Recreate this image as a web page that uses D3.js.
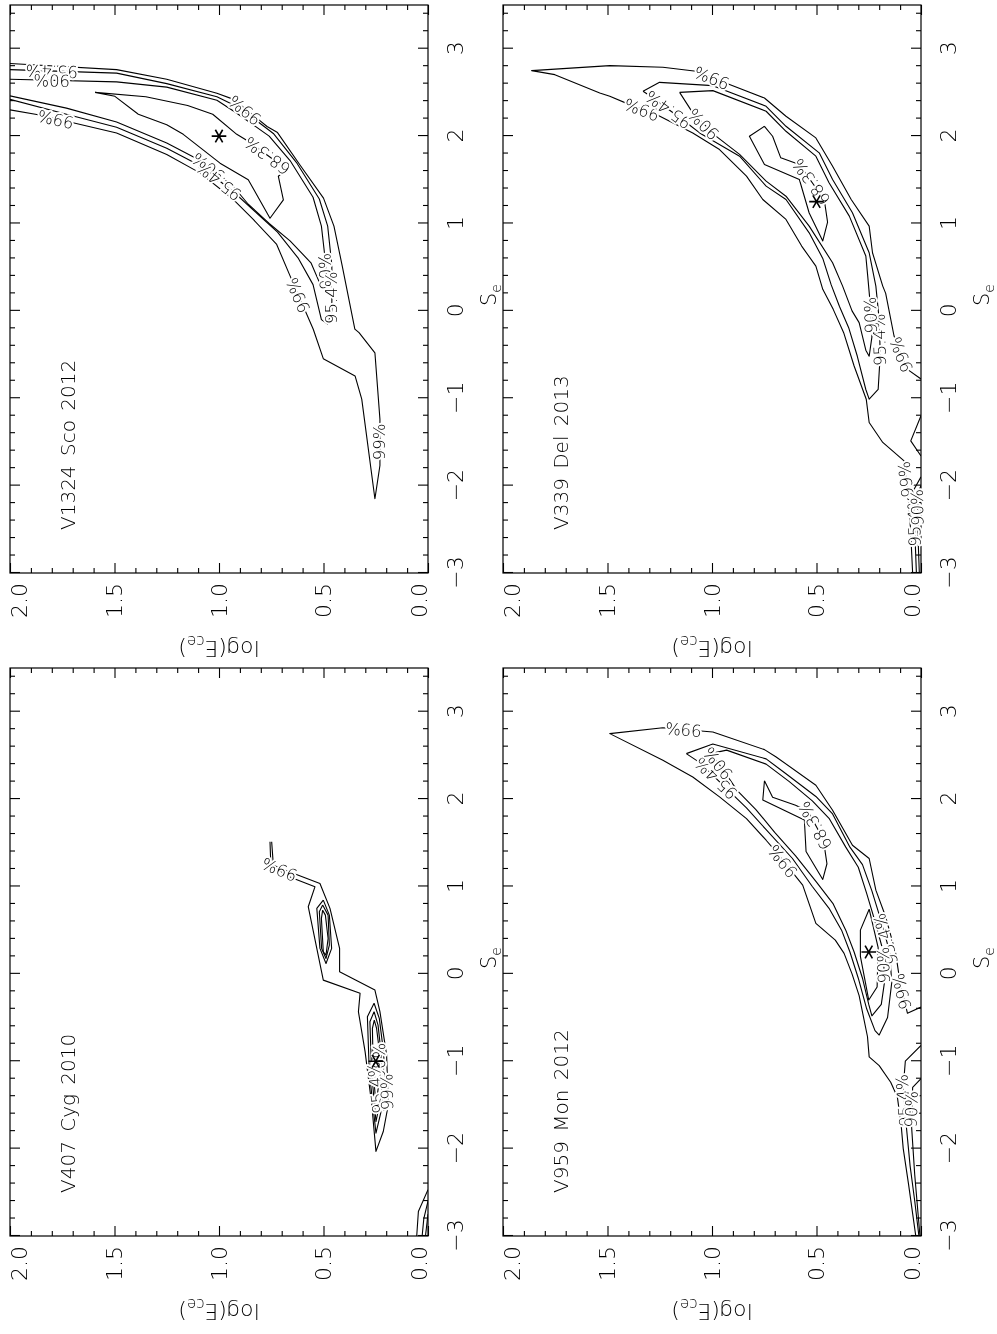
<!DOCTYPE html>
<html><head><meta charset="utf-8">
<script src="https://cdn.jsdelivr.net/npm/d3@7"></script>
<style>
body{margin:0;background:#fff}
svg{display:block;will-change:transform}
text{font-family:"DejaVu Sans",sans-serif;font-weight:200;fill:#000}
.tick text{font-size:22px}
.title{font-size:20px}
.axt{font-size:21px}
.clabel{font-size:16.5px;stroke:#fff;stroke-width:4px;paint-order:stroke;stroke-linejoin:round}
</style></head>
<body><svg id="c" width="997" height="1334"></svg>
<script>
const novaNames = ["V407 Cyg 2010", "V1324 Sco 2012", "V959 Mon 2012", "V339 Del 2013"];
const seTicks = [-3, -2, -1, 0, 1, 2, 3];
const logTicks = [0.0, 0.5, 1.0, 1.5, 2.0];
const bestFit = [[-1.0, 0.25], [2.0, 1.0], [0.25, 0.25], [1.25, 0.5]];

// contours: [S_e, log(E_ce)]
const v407_c99 = [[1.511,0.748],[1.244,0.74],[1.168,0.664],[1.034,0.517],[0.749,0.469],[0.291,0.423],[0.023,0.423],[-0.186,0.254],[-0.433,0.23],[-0.928,0.198],[-1.499,0.19],[-1.804,0.214],[-2.032,0.249],[-1.499,0.269],[-0.89,0.301],[-0.433,0.333],[-0.223,0.325],[-0.072,0.501],[0.768,0.573],[0.996,0.541],[1.111,0.664],[1.244,0.752],[1.511,0.756]];
const v407_c99c = [[-2.47,0],[-2.72,0.046],[-3.0,0.054]];
const v407_c954a = [[0.844,0.501],[0.749,0.532],[0.291,0.517],[0.119,0.488],[0.291,0.461],[0.672,0.472],[0.844,0.501]];
const v407_c954b = [[-0.337,0.258],[-0.49,0.29],[-1.118,0.281],[-1.823,0.249],[-1.499,0.217],[-0.928,0.211],[-0.51,0.233],[-0.337,0.258]];
const v407_c954c = [[-2.6,0],[-2.8,0.02],[-3.0,0.028]];
const v407_c90a = [[0.787,0.504],[0.71,0.52],[0.291,0.509],[0.176,0.488],[0.329,0.472],[0.672,0.478],[0.787,0.504]];
const v407_c90b = [[-0.433,0.258],[-0.549,0.278],[-1.118,0.27],[-1.69,0.249],[-1.423,0.226],[-0.89,0.225],[-0.587,0.239],[-0.433,0.258]];
const v407_c90c = [[-2.75,0],[-3.0,0.012]];
const v407_c683a = [[0.729,0.504],[0.634,0.51],[0.253,0.501],[0.214,0.488],[0.405,0.478],[0.672,0.491],[0.729,0.504]];
const v407_c683b = [[-0.53,0.257],[-0.625,0.266],[-1.118,0.262],[-1.499,0.249],[-1.27,0.236],[-0.815,0.236],[-0.625,0.246],[-0.53,0.257]];

const v1324_c99 = [[2.83,2.0],[2.76,1.49],[2.65,1.25],[2.49,1.01],[2.42,0.93],[2.11,0.77],[2.04,0.72],[1.66,0.61],[1.29,0.50],[0.97,0.45],[0.51,0.41],[-0.21,0.35],[-0.25,0.33],[-0.48,0.254],[-1.24,0.23],[-1.77,0.23],[-2.15,0.254],[-1.01,0.317],[-0.745,0.349],[-0.547,0.501],[-0.211,0.549],[0.40,0.66],[0.76,0.724],[1.046,0.836],[1.274,0.931],[1.579,1.091],[1.789,1.25],[2.036,1.49],[2.17,1.729],[2.246,1.872],[2.30,2.0]];
const v1324_c954 = [[2.76,2.0],[2.72,1.49],[2.60,1.25],[2.45,1.01],[2.32,0.90],[2.03,0.74],[1.70,0.63],[1.28,0.52],[0.97,0.48],[0.52,0.46],[0.0,0.46],[-0.15,0.48],[-0.1,0.51],[0.3,0.55],[0.6,0.62],[0.9,0.72],[1.12,0.82],[1.36,0.93],[1.66,1.09],[1.86,1.25],[2.10,1.49],[2.25,1.73],[2.42,2.0]];
const v1324_c90 = [[2.65,2.0],[2.62,1.49],[2.56,1.25],[2.41,1.01],[2.27,0.92],[2.0,0.76],[1.72,0.66],[1.30,0.55],[0.97,0.51],[0.55,0.49],[0.3,0.485],[0.25,0.50],[0.30,0.515],[0.55,0.56],[0.8,0.66],[1.0,0.76],[1.22,0.86],[1.42,0.93],[1.72,1.09],[1.92,1.25],[2.16,1.49],[2.32,1.73],[2.46,2.0]];
const v1324_c683 = [[2.50,1.593],[2.45,1.35],[2.35,1.15],[2.25,1.03],[2.02,0.915],[1.94,0.86],[1.62,0.676],[1.54,0.716],[1.27,0.692],[1.06,0.756],[1.50,0.86],[1.69,0.995],[2.02,1.171],[2.13,1.25],[2.25,1.386],[2.455,1.498],[2.50,1.593]];

const v959_c99 = [[-0.38,0.0],[-0.45,0.065],[-0.1,0.1],[0.234,0.121],[0.653,0.169],[0.958,0.216],[1.32,0.248],[1.472,0.328],[1.872,0.423],[2.158,0.503],[2.482,0.693],[2.566,0.749],[2.768,0.996],[2.817,1.235],[2.749,1.489],[2.444,1.235],[2.253,1.092],[2.025,0.964],[1.777,0.835],[1.529,0.741],[1.396,0.693],[1.015,0.566],[0.577,0.503],[0.386,0.41],[0.234,0.368],[0.0,0.33],[-0.25,0.296],[-0.72,0.256],[-0.95,0.248],[-1.05,0.2],[-1.24,0.145],[-1.41,0.113],[-1.73,0.095],[-2.0,0.085],[-2.4,0.06],[-3.0,0.025]];
const v959_c954 = [[2.52,1.123],[2.63,0.996],[2.46,0.741],[2.29,0.646],[2.03,0.503],[1.83,0.423],[1.45,0.34],[1.25,0.28],[0.95,0.235],[0.6,0.19],[0.25,0.15],[-0.1,0.14],[-0.5,0.16],[-0.7,0.2],[-0.65,0.22],[-0.4,0.26],[-0.05,0.30],[0.25,0.34],[0.5,0.38],[0.75,0.44],[1.0,0.52],[1.32,0.615],[1.65,0.741],[1.9,0.835],[2.12,0.93],[2.42,1.06],[2.52,1.123]];
const v959_c954b = [[-0.82,0.0],[-1.0,0.075],[-1.3,0.085],[-1.75,0.07],[-2.2,0.052],[-2.6,0.03],[-3.0,0.01]];
const v959_c90 = [[2.52,1.007],[2.56,0.93],[2.40,0.741],[2.2,0.63],[1.98,0.52],[1.78,0.44],[1.45,0.36],[1.22,0.30],[0.92,0.26],[0.6,0.22],[0.25,0.18],[-0.1,0.175],[-0.35,0.19],[-0.48,0.235],[-0.35,0.25],[-0.05,0.28],[0.25,0.32],[0.5,0.36],[0.8,0.42],[1.05,0.50],[1.35,0.6],[1.62,0.70],[1.88,0.79],[2.1,0.88],[2.35,0.95],[2.52,1.007]];
const v959_c90b = [[-1.2,0.0],[-1.3,0.04],[-1.75,0.045],[-2.3,0.03],[-3.0,0.005]];
const v959_c683a = [[2.21,0.749],[2.02,0.71],[1.93,0.6],[1.86,0.54],[1.55,0.47],[1.47,0.463],[1.26,0.45],[1.08,0.47],[1.4,0.55],[1.76,0.558],[1.99,0.757],[2.21,0.749]];
const v959_c683b = [[0.74,0.248],[0.5,0.29],[0.2,0.29],[-0.05,0.27],[-0.3,0.25],[-0.15,0.21],[0.3,0.205],[0.74,0.248]];

const v339_c99 = [[-0.78,0.0],[-0.67,0.065],[-0.288,0.129],[0.2,0.169],[0.283,0.183],[0.665,0.232],[0.97,0.248],[1.274,0.334],[1.655,0.423],[1.979,0.503],[2.227,0.646],[2.436,0.749],[2.589,0.916],[2.741,1.076],[2.787,1.235],[2.806,1.489],[2.749,1.863],[2.703,1.752],[2.494,1.537],[2.455,1.489],[2.36,1.394],[2.246,1.266],[2.036,1.092],[1.846,0.964],[1.541,0.835],[1.274,0.757],[1.046,0.646],[0.741,0.571],[0.512,0.503],[0.246,0.47],[0.017,0.42],[-0.25,0.37],[-0.631,0.32],[-1.011,0.262],[-1.278,0.248],[-1.506,0.183],[-1.716,0.081],[-2.116,0.062],[-2.5,0.05],[-3.0,0.04]];
const v339_c99b = [[-1.2,0.0],[-1.488,0.049],[-1.66,0.0]];
const v339_c954 = [[2.512,1.33],[2.615,1.251],[2.577,0.996],[2.341,0.741],[2.112,0.646],[1.808,0.487],[1.503,0.423],[1.122,0.328],[0.665,0.248],[0.283,0.216],[-0.1,0.2],[-0.5,0.195],[-0.9,0.205],[-1.01,0.248],[-0.9,0.264],[-0.517,0.305],[-0.2,0.345],[0.05,0.39],[0.3,0.43],[0.6,0.47],[0.893,0.535],[1.274,0.646],[1.427,0.741],[1.77,0.868],[2.036,1.059],[2.15,1.12],[2.45,1.29],[2.512,1.33]];
const v339_c954b = [[-1.9,0.0],[-2.05,0.035],[-2.5,0.03],[-3.0,0.022]];
const v339_c90 = [[2.50,1.155],[2.52,0.996],[2.284,0.741],[2.055,0.646],[1.77,0.503],[1.465,0.44],[1.084,0.343],[0.627,0.264],[0.4,0.255],[0.0,0.24],[-0.3,0.235],[-0.52,0.248],[-0.45,0.264],[-0.135,0.296],[0.0,0.33],[0.283,0.375],[0.55,0.423],[0.97,0.535],[1.312,0.646],[1.484,0.741],[1.79,0.868],[2.0,0.981],[2.265,1.092],[2.50,1.155]];
const v339_c90b = [[-2.0,0.0],[-2.1,0.018],[-2.6,0.014],[-3.0,0.008]];
const v339_c683 = [[2.112,0.749],[1.998,0.71],[1.751,0.671],[1.674,0.582],[1.274,0.463],[1.015,0.447],[0.80,0.47],[1.12,0.535],[1.503,0.582],[1.674,0.749],[1.998,0.821],[2.112,0.749]];

// contour labels: [level, S_e, log(E_ce)]
const v407_labels = [["99%",1.2,0.71],["90%",-1.0,0.232],["95.4%",-1.3,0.247],["99%",-1.35,0.195]];
const v1324_labels = [["99%",2.30,0.875],["99%",2.197,1.78],["95.4%",2.745,1.80],["90%",2.64,1.80],["68.3%",1.78,0.768],["90%",1.645,1.05],["95.4%",1.49,1.0],["99%",0.18,0.62],["99%",-1.50,0.23],["90%",0.45,0.49],["95.4%",0.15,0.46]];
const v959_labels = [["99%",2.80,1.136],["99%",1.29,0.66],["95.4%",2.24,0.98],["90%",2.41,0.97],["68.3%",1.70,0.505],["95.4%",0.40,0.167],["90%",0.1,0.178],["99%",-0.2,0.09],["95.4%",-1.45,0.082],["90%",-1.55,0.045]];
const v339_labels = [["99%",2.67,1.0],["99%",2.307,1.335],["95.4%",2.305,1.208],["90%",2.14,1.04],["68.3%",1.48,0.524],["99%",-0.5,0.093],["95.4%",-0.33,0.197],["90%",-0.05,0.24],["99%",-1.93,0.071],["95.4%",-2.4,0.031],["90%",-2.25,0.016]];

const contourSets = [
  [[ "99%",v407_c99],["99%",v407_c99c],["95.4%",v407_c954a],["95.4%",v407_c954b],["95.4%",v407_c954c],["90%",v407_c90a],["90%",v407_c90b],["90%",v407_c90c],["68.3%",v407_c683a],["68.3%",v407_c683b]],
  [[ "99%",v1324_c99],["95.4%",v1324_c954],["90%",v1324_c90],["68.3%",v1324_c683]],
  [[ "99%",v959_c99],["95.4%",v959_c954],["95.4%",v959_c954b],["90%",v959_c90],["90%",v959_c90b],["68.3%",v959_c683a],["68.3%",v959_c683b]],
  [[ "99%",v339_c99],["99%",v339_c99b],["95.4%",v339_c954],["95.4%",v339_c954b],["90%",v339_c90],["90%",v339_c90b],["68.3%",v339_c683]]
];
const labelSets = [v407_labels, v1324_labels, v959_labels, v339_labels];

// ---------- drawing (original landscape frame, then rotated) ----------
const svg = d3.select("#c");
const root = svg.append("g").attr("transform", "translate(0,1334) rotate(-90)");
const W = 568, H = 418;
const origins = [[98, 10], [761, 10], [98, 503], [761, 503]];

const seMinor = d3.range(-30, 35, 2).map(v => v / 10).filter(v => v % 1 !== 0);
const logMinor = d3.range(1, 20, 1).map(v => v / 10).filter(v => Math.round(v * 10) % 5 !== 0);
const fmtSe = d => d < 0 ? "\u2212" + Math.abs(d) : String(d);

function styleAxis(sel) {
  sel.attr("font-size", null).attr("font-family", null);
  sel.select(".domain").remove();
  sel.selectAll(".tick line").attr("stroke", "#000").attr("stroke-width", 1.1);
}

novaNames.forEach((name, i) => {
  const [X0, Y0] = origins[i];
  const x = d3.scaleLinear().domain([-3, 3.5]).range([X0, X0 + W]);
  const y = d3.scaleLinear().domain([0, 2]).range([Y0 + H, Y0]);
  const g = root.append("g");

  g.append("clipPath").attr("id", "clip" + i).append("rect")
    .attr("x", X0).attr("y", Y0).attr("width", W).attr("height", H);

  // axes (ticks pointing inward)
  g.append("g").attr("transform", `translate(0,${Y0 + H})`)
    .call(d3.axisBottom(x).tickValues(seTicks).tickSizeInner(-10).tickSizeOuter(0).tickPadding(19).tickFormat(fmtSe)).call(styleAxis);
  g.append("g").attr("transform", `translate(0,${Y0 + H})`)
    .call(d3.axisBottom(x).tickValues(seMinor).tickSizeInner(-5).tickSizeOuter(0).tickFormat("")).call(styleAxis);
  g.append("g").attr("transform", `translate(0,${Y0})`)
    .call(d3.axisTop(x).tickValues(seTicks).tickSizeInner(-10).tickSizeOuter(0).tickFormat("")).call(styleAxis);
  g.append("g").attr("transform", `translate(0,${Y0})`)
    .call(d3.axisTop(x).tickValues(seMinor).tickSizeInner(-5).tickSizeOuter(0).tickFormat("")).call(styleAxis);
  const la = g.append("g").attr("transform", `translate(${X0},0)`)
    .call(d3.axisLeft(y).tickValues(logTicks).tickSizeInner(-10).tickSizeOuter(0).tickPadding(10).tickFormat(d3.format(".1f"))).call(styleAxis);
  la.selectAll(".tick text").attr("y", d => d === 2 ? 9 : (d === 0 ? -9 : 0));
  g.append("g").attr("transform", `translate(${X0},0)`)
    .call(d3.axisLeft(y).tickValues(logMinor).tickSizeInner(-5).tickSizeOuter(0).tickFormat("")).call(styleAxis);
  g.append("g").attr("transform", `translate(${X0 + W},0)`)
    .call(d3.axisRight(y).tickValues(logTicks).tickSizeInner(-10).tickSizeOuter(0).tickFormat("")).call(styleAxis);
  g.append("g").attr("transform", `translate(${X0 + W},0)`)
    .call(d3.axisRight(y).tickValues(logMinor).tickSizeInner(-5).tickSizeOuter(0).tickFormat("")).call(styleAxis);

  // frame
  g.append("rect").attr("x", X0).attr("y", Y0).attr("width", W).attr("height", H)
    .attr("fill", "none").attr("stroke", "#000").attr("stroke-width", 1.2);

  // contours
  const line = d3.line().x(d => x(d[0])).y(d => y(d[1]));
  const cg = g.append("g").attr("clip-path", `url(#clip${i})`);
  cg.selectAll("path").data(contourSets[i]).join("path")
    .attr("d", d => line(d[1])).attr("fill", "none").attr("stroke", "#000").attr("stroke-width", 1.1)
    .attr("stroke-linejoin", "round");

  // contour labels along their line
  labelSets[i].forEach(([lev, s, e]) => {
    const px = x(s), py = y(e);
    let best = null, bd = Infinity;
    contourSets[i].filter(c => c[0] === lev).forEach(c => {
      const pts = c[1].map(p => [x(p[0]), y(p[1])]);
      for (let k = 0; k < pts.length - 1; k++) {
        const [ax, ay] = pts[k], [bx, by] = pts[k + 1];
        const dx = bx - ax, dy = by - ay, L = dx * dx + dy * dy || 1;
        let t = ((px - ax) * dx + (py - ay) * dy) / L; t = Math.max(0, Math.min(1, t));
        const qx = ax + t * dx - px, qy = ay + t * dy - py, dd = qx * qx + qy * qy;
        if (dd < bd) { bd = dd; best = [dx, dy]; }
      }
    });
    let ang = best ? Math.atan2(best[1], best[0]) * 180 / Math.PI : 0;
    if (ang > 90) ang -= 180; if (ang < -90) ang += 180;
    g.append("text").attr("class", "clabel")
      .attr("transform", `translate(${px},${py}) rotate(${ang})`)
      .attr("text-anchor", "middle").attr("dominant-baseline", "central").text(lev);
  });

  // best fit
  g.append("path").attr("d", d3.symbol(d3.symbolAsterisk, 150)())
    .attr("transform", `translate(${x(bestFit[i][0])},${y(bestFit[i][1])})`)
    .attr("fill", "none").attr("stroke", "#000").attr("stroke-width", 1.6);

  // panel title
  g.append("text").attr("class", "title").attr("x", X0 + 43).attr("y", Y0 + 65)
    .style("word-spacing", "3px").text(name);

  // axis titles
  const xt = g.append("text").attr("class", "axt").attr("x", X0 + W / 2 - 6).attr("y", Y0 + H + 68)
    .attr("text-anchor", "middle");
  xt.append("tspan").text("S");
  xt.append("tspan").attr("font-size", "14px").attr("dy", 5).text("e");

  const yt = g.append("text").attr("class", "axt")
    .attr("transform", `translate(${X0 - 68},${Y0 + H / 2}) rotate(-90)`).attr("text-anchor", "middle")
    .style("font-size", "22px");
  yt.append("tspan").text("log(E");
  yt.append("tspan").attr("font-size", "15px").attr("dy", 5).text("ce");
  yt.append("tspan").attr("dy", -5).text(")");
});
</script>
</body></html>
